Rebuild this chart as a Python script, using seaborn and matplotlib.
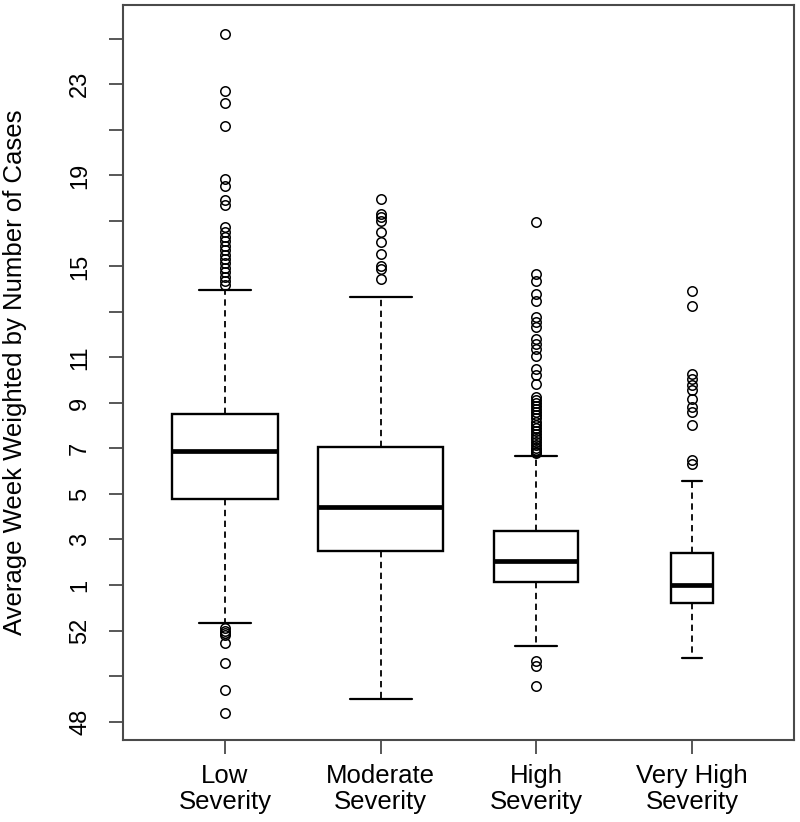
import numpy as np
import pandas as pd
import matplotlib
matplotlib.use("Agg")
import matplotlib.pyplot as plt
import seaborn as sns

# ---------------- data ----------------
categories = ["Low\nSeverity", "Moderate\nSeverity", "High\nSeverity", "Very High\nSeverity"]

# week axis: 52 -> -1, 48 -> -5 (weeks of previous year), 1.. -> 1..
q1_vals = [4.78, 2.49, 1.15, 0.22]
median_vals = [6.89, 4.42, 2.07, 1.00]
q3_vals = [8.50, 7.06, 3.38, 2.42]
whisker_low = [-0.68, -4.01, -1.66, -2.21]
whisker_high = [13.95, 13.67, 6.69, 5.57]

low_outliers_upper = [25.23, 22.70, 22.19, 21.17, 18.85, 18.55, 17.92, 17.70,
                      16.71, 16.50, 16.30, 16.10, 15.90, 15.72, 15.52, 15.33,
                      15.15, 14.95, 14.75, 14.55, 14.35, 14.20]
low_outliers_lower = [-0.90, -1.02, -1.12, -1.20, -1.56, -2.43, -3.60, -4.62]

mod_outliers_upper = [17.95, 17.30, 17.18, 17.00, 16.53, 16.09, 15.54, 15.03,
                      14.88, 14.45]
mod_outliers_lower = []

high_outliers_upper = [16.93, 14.67, 14.37, 13.79, 13.49, 12.76, 12.54, 12.32,
                       11.82, 11.60, 11.38, 11.08, 10.50, 10.21, 9.84, 9.26,
                       9.12, 8.98, 8.85, 8.72, 8.58, 8.45, 8.32, 8.18, 8.05,
                       7.92, 7.78, 7.65, 7.52, 7.40, 7.28, 7.15, 7.03, 6.92,
                       6.85, 6.78]
high_outliers_lower = [-2.33, -2.54, -3.43]

vhigh_outliers_upper = [13.93, 13.28, 10.28, 10.06, 9.77, 9.55, 9.18, 8.82,
                        8.60, 8.01, 6.48, 6.30]
vhigh_outliers_lower = []

outliers_upper = [low_outliers_upper, mod_outliers_upper, high_outliers_upper, vhigh_outliers_upper]
outliers_lower = [low_outliers_lower, mod_outliers_lower, high_outliers_lower, vhigh_outliers_lower]

# relative box widths (varwidth in the original)
box_widths = [0.68, 0.80, 0.54, 0.265]

ytick_values = list(range(-5, 26, 2))
ytick_labels = ["48", "", "52", "1", "3", "5", "7", "9", "11", "", "15", "", "19", "", "23", ""]

# ---------------- build samples reproducing the summary ----------------
REP = 200  # replication so that the quartiles land on the read values


def sample_for(i):
    vals = (list(outliers_lower[i]) + [whisker_low[i]]
            + [q1_vals[i]] * REP + [median_vals[i]] * REP + [q3_vals[i]] * REP
            + [whisker_high[i]] + list(outliers_upper[i]))
    return pd.DataFrame({"group": categories[i], "week": vals})


# ---------------- plot ----------------
sns.set_theme(style="white")
plt.rcParams["font.family"] = ["Liberation Sans", "DejaVu Sans"]
plt.rcParams["text.color"] = "black"
plt.rcParams["axes.labelcolor"] = "black"
plt.rcParams["xtick.labelcolor"] = "black"
plt.rcParams["ytick.labelcolor"] = "black"

fig = plt.figure(figsize=(8.0, 8.22), dpi=100)
ax = fig.add_axes([0.15375, 0.0998, 0.83875, 0.8942])

frame_col = "#4a4a4a"
for i in range(len(categories)):
    df = sample_for(i)
    sns.boxplot(data=df, x="group", y="week", order=categories, ax=ax,
                width=box_widths[i], color="white", linecolor="black",
                linewidth=1.7, fill=True,
                whiskerprops=dict(linestyle=(0, (3.5, 2.5)), linewidth=1.3),
                capprops=dict(linewidth=1.6),
                medianprops=dict(linewidth=3.4, color="black"),
                flierprops=dict(marker="o", markerfacecolor="none",
                                markeredgecolor="black", markersize=6.8,
                                markeredgewidth=1.1))

ax.set_xlim(-0.655, 3.655)
ax.set_ylim(-5.81, 26.49)
ax.set_yticks(ytick_values)
ax.set_yticklabels(ytick_labels, rotation=90, va="center", fontsize=17)
ax.set_xticks(range(len(categories)))
ax.set_xticklabels(categories, fontsize=18.5, linespacing=1.12)
ax.set_xlabel("")
ax.set_ylabel("Average Week Weighted by Number of Cases", fontsize=18.5, labelpad=30)

ax.tick_params(axis="y", direction="out", length=10, width=1.3, color=frame_col, pad=13, left=True)
ax.tick_params(axis="x", direction="out", length=10, width=1.3, color=frame_col, pad=7, bottom=True)
for s in ax.spines.values():
    s.set_visible(True)
    s.set_color(frame_col)
    s.set_linewidth(1.5)

fig.savefig("out.png", dpi=100, facecolor="white")
